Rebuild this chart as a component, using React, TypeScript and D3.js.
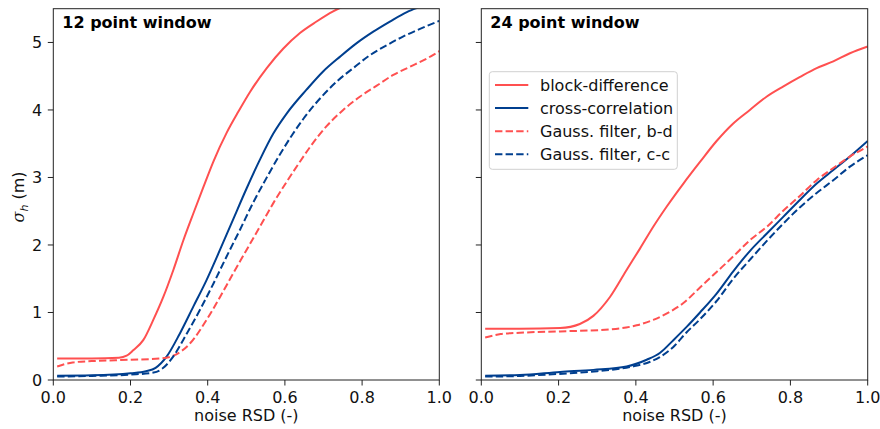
import React from "react";
import * as d3 from "d3";

type Pt = [number, number];

// ---- 12 point window (left panel) ----
const left_bd: Pt[] = [
  [0.01, 0.32], [0.1, 0.32], [0.17, 0.33], [0.19, 0.36], [0.207, 0.44], [0.233, 0.59],
  [0.259, 0.89], [0.285, 1.23], [0.311, 1.63], [0.337, 2.07], [0.363, 2.47], [0.389, 2.86],
  [0.415, 3.24], [0.449, 3.66], [0.48, 3.98], [0.51, 4.27], [0.553, 4.62], [0.596, 4.91],
  [0.639, 5.14], [0.682, 5.31], [0.725, 5.46], [0.77, 5.58],
];
const left_cc: Pt[] = [
  [0.01, 0.064], [0.1, 0.07], [0.2, 0.1], [0.24, 0.13], [0.265, 0.18], [0.294, 0.35],
  [0.328, 0.69], [0.363, 1.09], [0.397, 1.48], [0.432, 1.93], [0.466, 2.38], [0.501, 2.84],
  [0.535, 3.26], [0.57, 3.65], [0.605, 3.95], [0.656, 4.3], [0.699, 4.57], [0.743, 4.79],
  [0.786, 4.99], [0.829, 5.16], [0.872, 5.31], [0.916, 5.45], [0.937, 5.5], [0.96, 5.56],
];
const left_gbd: Pt[] = [
  [0.01, 0.2], [0.05, 0.26], [0.1, 0.28], [0.2, 0.3], [0.28, 0.32], [0.311, 0.36],
  [0.354, 0.54], [0.397, 0.89], [0.432, 1.23], [0.466, 1.58], [0.501, 1.93], [0.535, 2.27],
  [0.57, 2.62], [0.605, 2.94], [0.635, 3.2], [0.665, 3.45], [0.708, 3.76], [0.751, 4.0],
  [0.795, 4.2], [0.838, 4.36], [0.881, 4.52], [0.924, 4.64], [0.967, 4.76], [1.0, 4.87],
];
const left_gcc: Pt[] = [
  [0.01, 0.05], [0.1, 0.06], [0.2, 0.08], [0.26, 0.11], [0.285, 0.18], [0.311, 0.35],
  [0.346, 0.69], [0.38, 1.04], [0.415, 1.43], [0.449, 1.83], [0.484, 2.23], [0.518, 2.63],
  [0.553, 3.0], [0.587, 3.34], [0.62, 3.64], [0.648, 3.87], [0.691, 4.17], [0.734, 4.42],
  [0.777, 4.62], [0.82, 4.81], [0.864, 4.96], [0.907, 5.09], [0.95, 5.2], [1.0, 5.32],
];

// ---- 24 point window (right panel) ----
const right_bd: Pt[] = [
  [0.01, 0.76], [0.1, 0.76], [0.204, 0.77], [0.255, 0.83], [0.29, 0.95], [0.333, 1.23],
  [0.376, 1.63], [0.411, 1.95], [0.445, 2.27], [0.48, 2.57], [0.523, 2.91], [0.566, 3.23],
  [0.609, 3.54], [0.652, 3.8], [0.695, 4.0], [0.739, 4.2], [0.782, 4.35], [0.825, 4.49],
  [0.868, 4.62], [0.911, 4.72], [0.954, 4.84], [1.0, 4.94],
];
const right_cc: Pt[] = [
  [0.01, 0.064], [0.1, 0.074], [0.204, 0.12], [0.29, 0.15], [0.376, 0.2], [0.428, 0.3],
  [0.462, 0.4], [0.497, 0.59], [0.532, 0.79], [0.566, 1.0], [0.609, 1.28], [0.652, 1.61],
  [0.695, 1.91], [0.739, 2.17], [0.782, 2.42], [0.825, 2.67], [0.868, 2.91], [0.911, 3.11],
  [0.954, 3.31], [1.0, 3.54],
];
const right_gbd: Pt[] = [
  [0.01, 0.63], [0.05, 0.68], [0.1, 0.7], [0.204, 0.72], [0.333, 0.75], [0.402, 0.81],
  [0.445, 0.89], [0.488, 1.01], [0.523, 1.14], [0.566, 1.37], [0.609, 1.6], [0.652, 1.83],
  [0.695, 2.07], [0.739, 2.27], [0.782, 2.51], [0.825, 2.73], [0.868, 2.96], [0.911, 3.14],
  [0.954, 3.31], [1.0, 3.46],
];
const right_gcc: Pt[] = [
  [0.01, 0.05], [0.1, 0.06], [0.2, 0.09], [0.3, 0.13], [0.4, 0.21], [0.437, 0.27],
  [0.462, 0.34], [0.497, 0.49], [0.532, 0.71], [0.566, 0.9], [0.609, 1.17], [0.652, 1.5],
  [0.695, 1.78], [0.739, 2.06], [0.782, 2.32], [0.825, 2.56], [0.868, 2.77], [0.911, 2.96],
  [0.954, 3.16], [1.0, 3.33],
];

const xTicks = [0, 0.2, 0.4, 0.6, 0.8, 1.0];
const yTicks = [0, 1, 2, 3, 4, 5];
const seriesNames = ["block-difference", "cross-correlation", "Gauss. filter, b-d", "Gauss. filter, c-c"];
const panelTitles = ["12 point window", "24 point window"];

const RED = "#ff5050";
const BLUE = "#003f8f";
const FONT = "DejaVu Sans, sans-serif";
const FS = 16;

const styles = [
  { color: RED, dash: undefined as string | undefined },
  { color: BLUE, dash: undefined as string | undefined },
  { color: RED, dash: "7.4,3.2" },
  { color: BLUE, dash: "7.4,3.2" },
];

const top = 8.7;
const bottom = 380;
const panels = [
  { x0: 53.3, x1: 439.3, data: [left_bd, left_cc, left_gbd, left_gcc], labels: true },
  { x0: 481.3, x1: 867.7, data: [right_bd, right_cc, right_gbd, right_gcc], labels: false },
];

function Panel({ p, idx }: { p: typeof panels[0]; idx: number }) {
  const x = d3.scaleLinear().domain([0, 1]).range([p.x0, p.x1]);
  const y = d3.scaleLinear().domain([0, 5.5]).range([bottom, top]);
  const line = d3.line<Pt>().x((d) => x(d[0])).y((d) => y(d[1])).curve(d3.curveMonotoneX);
  const clipId = `clip${idx}`;
  return (
    <g>
      <defs>
        <clipPath id={clipId}>
          <rect x={p.x0} y={top} width={p.x1 - p.x0} height={bottom - top} />
        </clipPath>
      </defs>
      <g clipPath={`url(#${clipId})`}>
        {p.data.map((d, i) => (
          <path
            key={i}
            d={line(d) || ""}
            fill="none"
            stroke={styles[i].color}
            strokeWidth={2}
            strokeDasharray={styles[i].dash}
          />
        ))}
      </g>
      <rect x={p.x0} y={top} width={p.x1 - p.x0} height={bottom - top} fill="none" stroke="#222" strokeWidth={1} />
      {xTicks.map((t) => (
        <g key={"x" + t}>
          <line x1={x(t)} x2={x(t)} y1={bottom} y2={bottom + 5.5} stroke="#222" />
          <text x={x(t)} y={bottom + 22.5} textAnchor="middle" fontSize={FS} fontFamily={FONT} fill="#111">
            {t.toFixed(1)}
          </text>
        </g>
      ))}
      {yTicks.map((t) => (
        <g key={"y" + t}>
          <line x1={p.x0 - 5.5} x2={p.x0} y1={y(t)} y2={y(t)} stroke="#222" />
          {p.labels && (
            <text x={p.x0 - 11} y={y(t) + 5.8} textAnchor="end" fontSize={FS} fontFamily={FONT} fill="#111">
              {t}
            </text>
          )}
        </g>
      ))}
      <text x={(p.x0 + p.x1) / 2} y={421} textAnchor="middle" fontSize={FS} fontFamily={FONT} fill="#111">
        noise RSD (-)
      </text>
      <text x={p.x0 + 9} y={28} fontSize={FS} fontWeight="bold" fontFamily={FONT} fill="#000">
        {panelTitles[idx]}
      </text>
    </g>
  );
}

export default function App() {
  const lx = 489.3;
  const ly = 71.7;
  return (
    <svg width={880} height={429} style={{ position: "absolute", left: 0, top: 0, background: "#fff" }}>
      <rect x={0} y={0} width={880} height={429} fill="#fff" />
      {panels.map((p, i) => (
        <Panel key={i} p={p} idx={i} />
      ))}
      <text
        transform={`translate(24,197) rotate(-90)`}
        textAnchor="middle"
        fontSize={FS}
        fontFamily={FONT}
        fill="#111"
      >
        <tspan fontStyle="italic" fontFamily="DejaVu Serif, serif">σ</tspan>
        <tspan fontStyle="italic" fontSize={11} dy={4}>h</tspan>
        <tspan dy={-4}> (m)</tspan>
      </text>
      <g>
        <rect x={lx} y={ly} width={188} height={97.6} rx={3} fill="#fff" fillOpacity={0.8} stroke="#d0d0d0" />
        {seriesNames.map((n, i) => {
          const cy = 85 + i * 23.1;
          return (
            <g key={n}>
              <line x1={495} x2={528.3} y1={cy} y2={cy} stroke={styles[i].color} strokeWidth={2} strokeDasharray={styles[i].dash} />
              <text x={540} y={cy + 5.8} fontSize={FS} fontFamily={FONT} fill="#111">
                {n}
              </text>
            </g>
          );
        })}
      </g>
    </svg>
  );
}
